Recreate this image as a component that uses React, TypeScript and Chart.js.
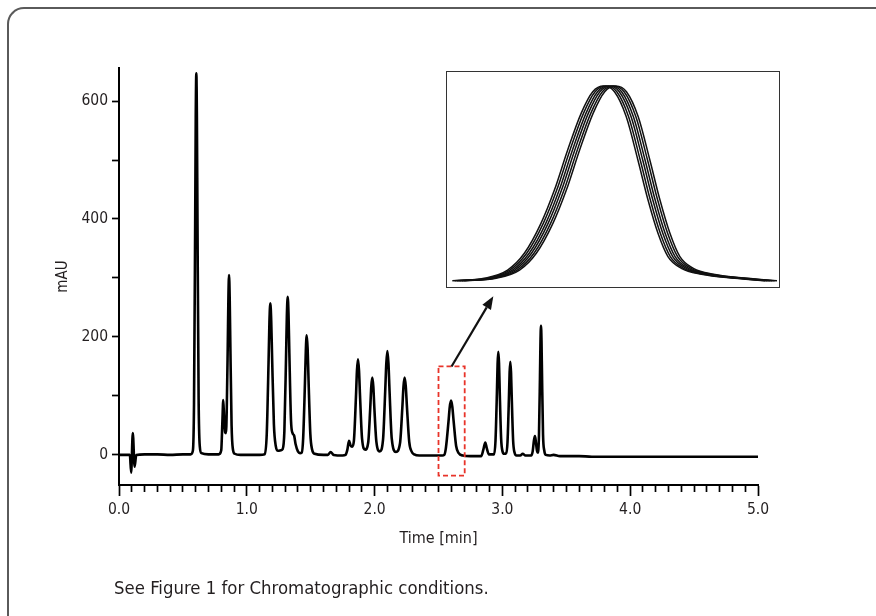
import { useEffect, useRef } from "react";
import { Chart, registerables } from "chart.js";

Chart.register(...registerables);

// ---------- main chromatogram (time in min, signal in mAU) ----------
const retentionTime = [
  0.0, 0.05, 0.085, 0.095, 0.108, 0.122, 0.135, 0.2, 0.3, 0.4, 0.5, 0.56,
  0.578, 0.587, 0.596, 0.6005, 0.605, 0.6095, 0.614, 0.623, 0.632, 0.645, 0.7, 0.78,
  0.8, 0.809, 0.816, 0.823, 0.831, 0.837, 0.843, 0.851, 0.856, 0.861, 0.866, 0.871, 0.881, 0.891, 0.905, 0.95, 1.1,
  1.14, 1.156, 1.17, 1.177, 1.184, 1.191, 1.198, 1.212, 1.226, 1.245,
  1.268, 1.281, 1.294, 1.307, 1.3135, 1.32, 1.3265, 1.333, 1.346, 1.358, 1.37, 1.382, 1.4, 1.416,
  1.43, 1.441, 1.455, 1.462, 1.469, 1.476, 1.483, 1.497, 1.511, 1.53, 1.6, 1.635, 1.656, 1.68, 1.75, 1.772,
  1.787, 1.8, 1.812, 1.824, 1.838, 1.854, 1.862, 1.87, 1.878, 1.886, 1.902, 1.926,
  1.95, 1.966, 1.974, 1.982, 1.99, 1.998, 2.014, 2.04,
  2.066, 2.083, 2.0915, 2.1, 2.1085, 2.117, 2.134, 2.167,
  2.199, 2.217, 2.226, 2.235, 2.244, 2.253, 2.271, 2.289, 2.31, 2.35, 2.45, 2.53,
  2.545, 2.558, 2.578, 2.588, 2.598, 2.608, 2.618, 2.638, 2.658, 2.69, 2.75, 2.835,
  2.852, 2.866, 2.878, 2.895, 2.935, 2.946, 2.957, 2.9625, 2.968, 2.9735, 2.979, 2.99, 3.001, 3.013,
  3.029, 3.04, 3.051, 3.0565, 3.062, 3.0675, 3.073, 3.084, 3.095, 3.11, 3.14, 3.159, 3.18, 3.225,
  3.237, 3.247, 3.255, 3.263, 3.27, 3.277, 3.286, 3.294, 3.298, 3.302, 3.306, 3.31, 3.318, 3.328,
  3.34, 3.37, 3.4, 3.45, 3.6, 3.7, 4.0, 4.5, 5.0,
];

const absorbance = [
  0, 0, 0, -30, 37, -20, 0, 1, 1, 0, 1, 1,
  7, 87, 392, 572, 647, 572, 400, 95, 15, 3, 1, 1,
  8, 57, 93, 60, 38, 37, 75, 185, 265, 305, 268, 190, 50, 10, 2, 0, 0,
  1, 35, 155, 225, 257, 228, 165, 52, 16, 7,
  8, 10, 40, 165, 236, 268, 238, 172, 58, 37, 33, 18, 6, 3,
  4, 28, 122, 178, 203, 180, 128, 36, 9, 2, 0, 0, 5, 0, -1, 0,
  9, 24, 16, 14, 24, 98, 143, 162, 143, 100, 27, 9,
  21, 80, 116, 131, 116, 80, 22, 6,
  26, 108, 155, 176, 155, 108, 28, 5,
  20, 80, 116, 131, 116, 82, 22, 6, 1, -1, -1, -1,
  0, 12, 56, 81, 92, 82, 58, 15, 3, -1, -2, -2,
  10, 21, 11, 1, 1, 24, 105, 155, 175, 156, 108, 28, 6, 2,
  3, 22, 96, 140, 158, 140, 98, 24, 4, -1, -1, 2, -1, -1,
  6, 25, 32, 20, 8, 4, 32, 133, 193, 219, 193, 135, 34, 7,
  0, -1, 0, -2, -2, -3, -3, -3, -3,
];

// axis ticks
const xTickValues = [
  0.0, 0.1, 0.2, 0.3, 0.4, 0.5, 0.6, 0.7, 0.8, 0.9,
  1.0, 1.1, 1.2, 1.3, 1.4, 1.5, 1.6, 1.7, 1.8, 1.9,
  2.0, 2.1, 2.2, 2.3, 2.4, 2.5, 2.6, 2.7, 2.8, 2.9,
  3.0, 3.1, 3.2, 3.3, 3.4, 3.5, 3.6, 3.7, 3.8, 3.9,
  4.0, 4.1, 4.2, 4.3, 4.4, 4.5, 4.6, 4.7, 4.8, 4.9, 5.0,
];
const xMajorLabels = ["0.0", "1.0", "2.0", "3.0", "4.0", "5.0"];
const yTickValues = [0, 100, 200, 300, 400, 500, 600];
const yMajorTicks = [0, 200, 400, 600];
const yMajorLabels = ["0", "200", "400", "600"];

// zoomed window (red dashed box) in data units
const zoomWindow = { from: 2.5, to: 2.705, low: -35, high: 150 };
const arrowTail = { t: 2.602, v: 150 };
const arrowTip = { t: 2.929, v: 269 };

// ---------- inset: overlay of replicate runs of the peak at 2.6 min ----------
const insetTime = [
  2.5068, 2.526, 2.5401, 2.5502, 2.5602, 2.5683, 2.5763, 2.5844, 2.5914, 2.5981,
  2.6045, 2.6116, 2.6186, 2.6247, 2.6307, 2.6367, 2.6448, 2.6569, 2.677, 2.6952,
];
const insetSignal = [
  0.1, 1.3, 5.2, 13.1, 27.2, 42.9, 61.8, 79.1, 89.3, 92.0,
  89.3, 77.5, 57.1, 38.2, 22.5, 11.5, 6.0, 3.2, 1.3, 0.1,
];
const insetRunShifts = [-0.0036, -0.0022, -0.0007, 0.0007, 0.0022, 0.0036];

const FONT = '"Liberation Sans Narrow", "DejaVu Sans Condensed", "Open Sans", sans-serif';
const TEXT = "#231f20";

const annotationPlugin = {
  id: "zoomAnnotations",
  afterDatasetsDraw(chart: any) {
    const { ctx } = chart;
    const xs = chart.scales.x;
    const ys = chart.scales.y;
    const x0 = xs.getPixelForValue(zoomWindow.from);
    const x1 = xs.getPixelForValue(zoomWindow.to);
    const y0 = ys.getPixelForValue(zoomWindow.high);
    const y1 = ys.getPixelForValue(zoomWindow.low);
    ctx.save();
    ctx.strokeStyle = "#e8342a";
    ctx.lineWidth = 1.8;
    ctx.setLineDash([5, 3]);
    ctx.strokeRect(x0, y0, x1 - x0, y1 - y0);
    ctx.setLineDash([]);

    const ax = xs.getPixelForValue(arrowTail.t);
    const ay = ys.getPixelForValue(arrowTail.v);
    const bx = xs.getPixelForValue(arrowTip.t);
    const by = ys.getPixelForValue(arrowTip.v);
    const ang = Math.atan2(by - ay, bx - ax);
    const head = 13;
    const half = 5;
    const hx = bx - head * Math.cos(ang);
    const hy = by - head * Math.sin(ang);
    ctx.strokeStyle = "#111";
    ctx.fillStyle = "#111";
    ctx.lineWidth = 2.2;
    ctx.beginPath();
    ctx.moveTo(ax, ay);
    ctx.lineTo(hx, hy);
    ctx.stroke();
    ctx.beginPath();
    ctx.moveTo(bx, by);
    ctx.lineTo(hx + half * Math.sin(ang), hy - half * Math.cos(ang));
    ctx.lineTo(hx - half * Math.sin(ang), hy + half * Math.cos(ang));
    ctx.closePath();
    ctx.fill();
    ctx.restore();
  },
};

export default function App() {
  const mainRef = useRef<HTMLCanvasElement>(null);
  const insetRef = useRef<HTMLCanvasElement>(null);

  useEffect(() => {
    const main = new Chart(mainRef.current as HTMLCanvasElement, {
      type: "line",
      data: {
        datasets: [
          {
            data: retentionTime.map((t, i) => ({ x: t, y: absorbance[i] })),
            borderColor: "#000",
            borderWidth: 2.6,
            pointRadius: 0,
            cubicInterpolationMode: "monotone",
            fill: false,
          },
        ],
      },
      options: {
        responsive: false,
        animation: false,
        devicePixelRatio: 1,
        events: [],
        layout: { padding: { left: 0, top: 68, right: 118, bottom: 61 } },
        plugins: { legend: { display: false }, tooltip: { enabled: false } },
        scales: {
          x: {
            type: "linear",
            position: "bottom",
            min: 0,
            max: 5,
            afterBuildTicks: (s: any) => {
              s.ticks = xTickValues.map((v) => ({ value: v }));
            },
            afterFit: (s: any) => {
              s.height = 70;
            },
            border: { display: true, color: "#000", width: 2 },
            grid: {
              display: true,
              drawOnChartArea: false,
              drawTicks: true,
              tickLength: 11,
              tickWidth: 1.7,
              tickColor: "#000",
              tickBorderDash: (c: any) => {
                const v = c.tick ? c.tick.value : 0;
                return Math.abs(v - Math.round(v)) < 1e-6 ? [] : [6, 40];
              },
            },
            ticks: {
              autoSkip: false,
              maxRotation: 0,
              padding: 5,
              color: TEXT,
              font: { family: FONT, size: 15.5 },
              callback: (value: any) => {
                const v = Number(value);
                const r = Math.round(v);
                return Math.abs(v - r) < 1e-6 ? xMajorLabels[r] ?? "" : "";
              },
            },
            title: {
              display: true,
              text: "Time [min]",
              color: TEXT,
              font: { family: FONT, size: 16 },
              padding: { top: 0, bottom: 7 },
            },
          },
          y: {
            type: "linear",
            position: "left",
            min: -51,
            max: 656,
            afterBuildTicks: (s: any) => {
              s.ticks = yTickValues.map((v) => ({ value: v }));
            },
            afterFit: (s: any) => {
              s.width = 119;
            },
            border: { display: true, color: "#000", width: 2 },
            grid: {
              display: true,
              drawOnChartArea: false,
              drawTicks: true,
              tickLength: 7,
              tickWidth: 1.7,
              tickColor: "#000",
            },
            ticks: {
              autoSkip: false,
              padding: 4,
              color: TEXT,
              font: { family: FONT, size: 15.5 },
              callback: (value: any) => {
                const idx = yMajorTicks.indexOf(Math.round(Number(value)));
                return idx >= 0 ? yMajorLabels[idx] : "";
              },
            },
            title: {
              display: true,
              text: "mAU",
              color: TEXT,
              font: { family: FONT, size: 15 },
              padding: { top: 54, bottom: 0 },
            },
          },
        },
      },
      plugins: [annotationPlugin],
    } as any);

    const inset = new Chart(insetRef.current as HTMLCanvasElement, {
      type: "line",
      data: {
        datasets: insetRunShifts.map((shift) => ({
          data: insetTime.map((t, i) => ({ x: t + shift, y: insetSignal[i] })),
          borderColor: "#111",
          borderWidth: 1.5,
          pointRadius: 0,
          cubicInterpolationMode: "monotone",
          fill: false,
        })),
      },
      options: {
        responsive: false,
        animation: false,
        devicePixelRatio: 1,
        events: [],
        layout: { padding: 0 },
        plugins: { legend: { display: false }, tooltip: { enabled: false } },
        scales: {
          x: { type: "linear", min: 2.5, max: 2.7, display: false },
          y: { type: "linear", min: -2.8, max: 98.6, display: false },
        },
      },
    } as any);

    return () => {
      main.destroy();
      inset.destroy();
    };
  }, []);

  return (
    <div
      style={{
        position: "absolute",
        left: 0,
        top: 0,
        width: 876,
        height: 616,
        overflow: "hidden",
        background: "#fff",
      }}
    >
      <div
        style={{
          position: "absolute",
          left: 7,
          top: 7,
          width: 900,
          height: 700,
          borderTop: "2px solid #5a5a5a",
          borderLeft: "2px solid #5a5a5a",
          borderTopLeftRadius: 17,
          boxSizing: "border-box",
        }}
      />
      <canvas
        ref={mainRef}
        width={876}
        height={616}
        style={{ position: "absolute", left: 0, top: 0, width: 876, height: 616 }}
      />
      <div
        style={{
          position: "absolute",
          left: 446,
          top: 71,
          width: 334,
          height: 217,
          border: "1px solid #333",
          boxSizing: "border-box",
          background: "#fff",
        }}
      >
        <canvas
          ref={insetRef}
          width={332}
          height={215}
          style={{ display: "block", width: 332, height: 215 }}
        />
      </div>
      <div
        style={{
          position: "absolute",
          left: 114,
          top: 577,
          font: `18.4px ${FONT}`,
          lineHeight: "22px",
          color: TEXT,
          whiteSpace: "nowrap",
        }}
      >
        See Figure 1 for Chromatographic conditions.
      </div>
    </div>
  );
}
